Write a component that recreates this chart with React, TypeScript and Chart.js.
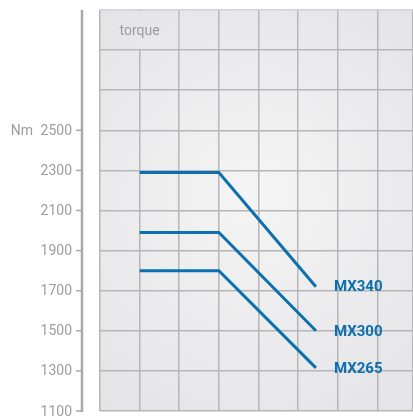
import React, { useEffect, useRef } from "react";
import { Chart, registerables } from "chart.js";

Chart.register(...registerables);

const yTicks = [1100, 1300, 1500, 1700, 1900, 2100, 2300, 2500];
const seriesNames = ["MX340", "MX300", "MX265"];
const xPoints = [1, 3, 5.45];
const mx340 = [2290, 2290, 1720];
const mx300 = [1990, 1990, 1500];
const mx265 = [1800, 1800, 1315];
const yUnit = "Nm";
const headerLabel = "torque";

const BLUE = "#0c6fae";
const GRAY_TEXT = "#9c9c9e";

export default function App() {
  const ref = useRef<HTMLCanvasElement | null>(null);

  useEffect(() => {
    const canvas = ref.current;
    if (!canvas) return;
    const values = [mx340, mx300, mx265];
    let bgFill: any = "#eaeaec";

    const plugin = {
      id: "custom",
      beforeDraw(chart: any) {
        const { ctx, chartArea: a } = chart;
        const g = ctx.createRadialGradient(
          (a.left + a.right) / 2,
          (a.top + a.bottom) / 2 - 20,
          10,
          (a.left + a.right) / 2,
          (a.top + a.bottom) / 2,
          260
        );
        g.addColorStop(0, "#f4f4f5");
        g.addColorStop(1, "#e3e3e5");
        bgFill = g;
        ctx.save();
        ctx.fillStyle = g;
        ctx.fillRect(a.left, a.top, a.right - a.left, a.bottom - a.top);
        ctx.restore();
      },
      beforeDatasetsDraw(chart: any) {
        const { ctx, scales } = chart;
        const x = scales.x;
        const y = scales.y;
        const x0 = x.getPixelForValue(0);
        const x2 = x.getPixelForValue(2);
        const yTop = y.getPixelForValue(3100);
        const yH = y.getPixelForValue(2900);
        ctx.save();
        ctx.fillStyle = bgFill;
        ctx.fillRect(x0 + 1, yTop + 1, x2 - x0 - 2, yH - yTop - 2);
        ctx.fillStyle = GRAY_TEXT;
        ctx.font = "14px Roboto";
        ctx.textAlign = "center";
        ctx.textBaseline = "middle";
        ctx.fillText(headerLabel, (x0 + x2) / 2, (yTop + yH) / 2 + 1);
        ctx.restore();
      },
      afterDraw(chart: any) {
        const { ctx, scales } = chart;
        const y = scales.y;
        const x = scales.x;
        const axisX = 82;
        ctx.save();
        ctx.strokeStyle = "#a9a9ad";
        ctx.lineWidth = 2.5;
        ctx.beginPath();
        ctx.moveTo(axisX, y.getPixelForValue(3100));
        ctx.lineTo(axisX, y.getPixelForValue(1100) + 1);
        ctx.stroke();
        ctx.lineWidth = 1.5;
        ctx.fillStyle = GRAY_TEXT;
        ctx.font = "14px Roboto";
        ctx.textAlign = "right";
        ctx.textBaseline = "middle";
        yTicks.forEach((v) => {
          const py = y.getPixelForValue(v);
          ctx.beginPath();
          ctx.moveTo(axisX - 6, py);
          ctx.lineTo(axisX, py);
          ctx.stroke();
          ctx.fillText(String(v), 72, py + 1);
        });
        ctx.fillText(yUnit, 33, y.getPixelForValue(2500) + 1);
        ctx.fillStyle = BLUE;
        ctx.font = "bold 15px Roboto";
        ctx.textAlign = "left";
        seriesNames.forEach((name, i) => {
          const last = xPoints.length - 1;
          const px = x.getPixelForValue(xPoints[last]) + 18;
          const py = y.getPixelForValue(values[i][last]);
          ctx.fillText(name, px, py + 1);
        });
        ctx.restore();
      },
    };

    const chart = new Chart(canvas, {
      type: "line",
      data: {
        datasets: seriesNames.map((name, i) => ({
          label: name,
          data: xPoints.map((xv, j) => ({ x: xv, y: values[i][j] })),
          borderColor: BLUE,
          borderWidth: 3,
          pointRadius: 0,
          tension: 0,
          fill: false,
        })),
      },
      options: {
        animation: false,
        responsive: false,
        devicePixelRatio: 1,
        layout: { padding: { left: 100, top: 10, right: 0, bottom: 6 } },
        plugins: { legend: { display: false }, tooltip: { enabled: false } },
        scales: {
          x: {
            type: "linear",
            min: 0,
            max: 7.9,
            afterFit: (s: any) => {
              s.height = 0;
            },
            ticks: { display: false, stepSize: 1 },
            grid: { color: "#b6b6b8", lineWidth: 1.5, drawTicks: false },
            border: { display: false },
          },
          y: {
            type: "linear",
            min: 1100,
            max: 3100,
            afterFit: (s: any) => {
              s.width = 0;
            },
            ticks: { display: false, stepSize: 200 },
            grid: {
              color: (c: any) => (c.tick && c.tick.value === 3100 ? "#d2d2d4" : "#b6b6b8"),
              lineWidth: 1.5,
              drawTicks: false,
            },
            border: { display: false },
          },
        },
      },
      plugins: [plugin],
    } as any);

    return () => chart.destroy();
  }, []);

  return (
    <div style={{ position: "fixed", left: 0, top: 0, width: 413, height: 417, background: "#fff" }}>
      <canvas ref={ref} width={413} height={417} />
    </div>
  );
}
